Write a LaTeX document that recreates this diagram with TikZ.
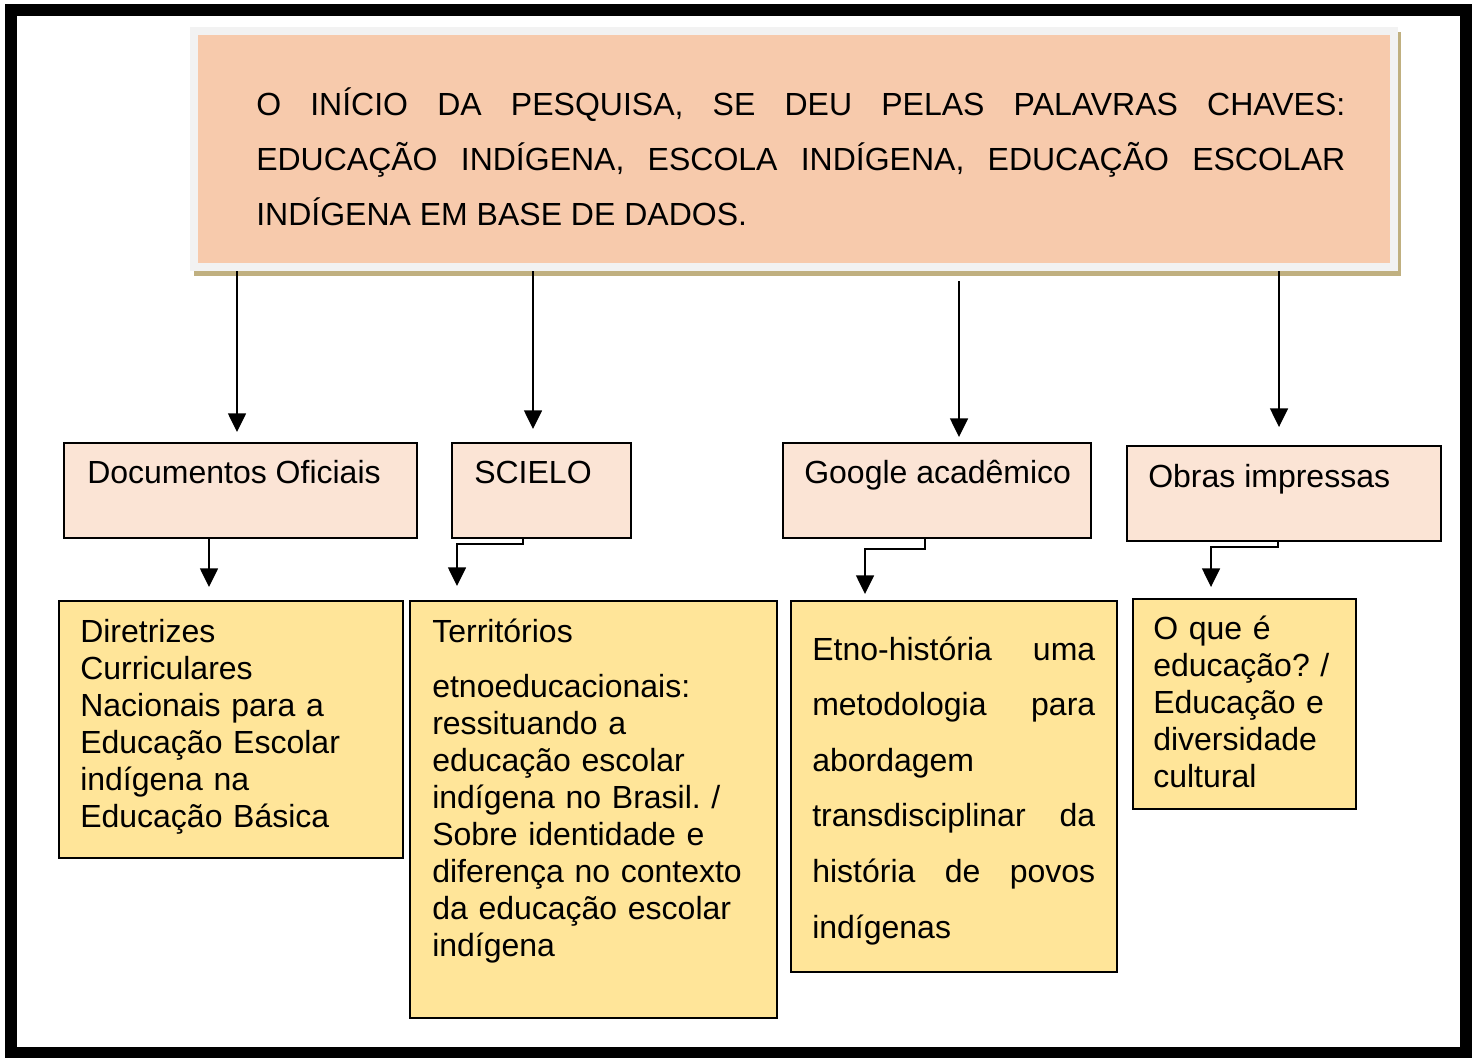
\documentclass[tikz,border=0pt]{standalone}
\usepackage{fontspec}
\setmainfont{Liberation Sans}
\usetikzlibrary{arrows.meta,fit}
\hyphenpenalty=10000
\exhyphenpenalty=10000
\frenchspacing
\definecolor{peach}{RGB}{247,202,172}
\definecolor{pinkc}{RGB}{251,228,213}
\definecolor{yellowc}{RGB}{255,229,153}
\definecolor{grayc}{RGB}{242,242,242}
\definecolor{shadowc}{RGB}{192,176,128}
\begin{document}
\begin{tikzpicture}[x=0.75pt,y=-0.75pt,
  pinkbox/.style={draw=black, fill=pinkc, line width=1.5pt, inner sep=0pt},
  yelbox/.style={draw=black, fill=yellowc, line width=1.5pt, inner sep=0pt},
  txt/.style={inner sep=0pt, anchor=base west, font=\fontsize{24}{27.75}\selectfont\frenchspacing},
  mtxt/.style={txt, text width=330pt, align=left},
  arr/.style={line width=1.1pt, -{Triangle[width=13.5pt,length=14pt]}}]
\useasboundingbox (0,0) rectangle (1476,1057);
% outer frame
\draw[line width=9pt] (11,10) rectangle (1466,1053);
% top box
\fill[shadowc] (194,32) rectangle (1401,276);
\node[fit={(190,27) (1398,271)}, fill=grayc, inner sep=0pt] (topbox) {};
\node[fit={(198,35) (1390,263)}, fill=peach, inner sep=0pt] (topin) {};
\node[txt, text width=816.75pt, align=justify, font=\fontsize{24}{41.25}\selectfont] (toptxt) at (256,115)
  {O INÍCIO DA PESQUISA, SE DEU PELAS PALAVRAS CHAVES:\linebreak EDUCAÇÃO INDÍGENA, ESCOLA INDÍGENA, EDUCAÇÃO ESCOLAR\linebreak INDÍGENA EM BASE DE DADOS.};
% pink boxes
\node[pinkbox, fit={(64,443) (417,538)}] (doc) {};
\node[pinkbox, fit={(452,443) (631,538)}] (sci) {};
\node[pinkbox, fit={(783,443) (1091,538)}] (goo) {};
\node[pinkbox, fit={(1127,446) (1441,541)}] (obr) {};
\node[txt] (tdoc) at (87,483) {Documentos Oficiais};
\node[txt] (tsci) at (474,483) {SCIELO};
\node[txt] (tgoo) at (804,483) {Google acadêmico};
\node[txt] (tobr) at (1148,487) {Obras impressas};
% yellow boxes
\node[yelbox, fit={(59,601) (403,858)}] (y1) {};
\node[yelbox, fit={(410,601) (777,1018)}] (y2) {};
\node[yelbox, fit={(791,601) (1117,972)}] (y3) {};
\node[yelbox, fit={(1133,599) (1356,809)}] (y4) {};
\node[mtxt] (ty1) at (80,642) {Diretrizes\\Curriculares\\Nacionais para a\\Educação Escolar\\indígena na\\Educação Básica};
\node[mtxt] (ty2) at (432,642) {Territórios\\[13.5pt]etnoeducacionais:\\ressituando a\\educação escolar\\indígena no Brasil. /\\Sobre identidade e\\diferença no contexto\\da educação escolar\\indígena};
\node[txt, text width=212.25pt, align=justify, font=\fontsize{24}{41.7}\selectfont] (ty3) at (812,660)
  {Etno-história uma\linebreak metodologia para\linebreak abordagem\linebreak transdisciplinar da\linebreak história de povos\linebreak indígenas};
\node[mtxt] (ty4) at (1153,639) {O que é\\educação? /\\Educação e\\diversidade\\cultural};
% connector coordinates
\coordinate (a1) at (237,0);
\coordinate (a2) at (533,0);
\coordinate (a3) at (959,0);
\coordinate (a4) at (1279,0);
\coordinate (b1) at (209,0);
\coordinate (s1) at (523,544);
\coordinate (s2) at (457,0);
\coordinate (g1) at (925,549);
\coordinate (g2) at (865,0);
\coordinate (o1) at (1278,547);
\coordinate (o2) at (1211,0);
% top arrows
\draw[arr, shorten >=7.5pt] (topbox.south -| a1) -- (doc.north -| a1);
\draw[arr, shorten >=9.75pt] (topbox.south -| a2) -- (sci.north -| a2);
\draw[arr, shorten <=7.5pt, shorten >=3.75pt] (topbox.south -| a3) -- (goo.north -| a3);
\draw[arr, shorten >=13.5pt] (topbox.south -| a4) -- (obr.north -| a4);
% lower arrows
\draw[arr, shorten >=9.75pt] (doc.south -| b1) -- (y1.north -| b1);
\draw[arr, shorten >=10.5pt] (sci.south -| s1) -- (s1) -| (y2.north -| s2);
\draw[arr, shorten >=4.5pt] (goo.south -| g1) -- (g1) -| (y3.north -| g2);
\draw[arr, shorten >=8.25pt] (obr.south -| o1) -- (o1) -| (y4.north -| o2);
\end{tikzpicture}
\end{document}
